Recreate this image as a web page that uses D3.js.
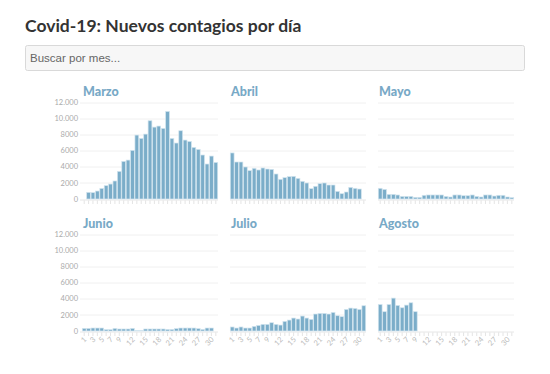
<!DOCTYPE html>
<html lang="es">
<head>
<meta charset="utf-8">
<script src="https://cdn.jsdelivr.net/npm/d3@7"></script>
<style>
  body { margin: 0; background: #fff; }
  svg { display: block; }
</style>
</head>
<body>
<script>
// Casos nuevos por día (null = sin dato)
const meses = ["Marzo", "Abril", "Mayo", "Junio", "Julio", "Agosto"]
const marzo = [null, 830, 790, 990, 1320, 1660, 1860, 2240, 3440, 4680, 4840, 6050, 7950, 7540, 8070, 9730,
  8940, 9070, 8780, 10890, 7540, 6960, 8490, 7330, 7160, 6420, 6170, 5470, 4350, 5340, 4550]
const abril = [5730, 4600, 4600, 3980, 3530, 3820, 3610, 3860, 3730, 3690, 3110, 2450, 2660, 2780, 2820,
  2570, 2200, 1990, 1290, 1580, 1910, 1990, 1740, 1740, 950, 660, 870, 1450, 1330, 1240]
const mayo = [1330, 1200, 580, 580, 500, 330, 330, 330, 210, 210, 460, 500, 500, 500, 500, 330, 250, 500,
  500, 410, 410, 500, 330, 250, 500, 500, 370, 460, 460, 250, 170]
const junio = [330, 330, 370, 370, 370, 170, 170, 330, 250, 250, 250, 330, 80, 80, 250, 250, 250, 250, 250,
  200, 200, 300, 370, 370, 370, 370, 300, 200, 370, 370]
const julio = [500, 370, 500, 370, 370, 580, 700, 830, 830, 1030, 830, 740, 1200, 1360, 1610, 1490, 1860,
  1610, 1450, 2110, 2190, 2190, 2110, 2310, 1900, 1780, 2690, 2850, 2810, 2690, 3140]
const agosto = [3300, 2400, 3300, 4090, 3180, 2890, 3220, 3510, 2400]
const series = [marzo, abril, mayo, junio, julio, agosto]

const dias = d3.range(1, 32)
const yTicks = [0, 2000, 4000, 6000, 8000, 10000, 12000]
const xLabels = [1, 3, 5, 7, 9, 12, 15, 18, 21, 24, 27, 30]

const W = 550, H = 374
const colX = [82, 230, 378]
const rowY = [102.5, 234.5]
const pw = 136, ph = 96.5
const barColor = "#7badc9"
const titleColor = "#78a9c6"

const svg = d3.select("body").append("svg")
  .attr("width", W)
  .attr("height", H)

// Título
svg.append("text")
  .attr("x", 25).attr("y", 32)
  .attr("font-family", "Lato, sans-serif")
  .attr("font-weight", "bold")
  .attr("font-size", 17.5)
  .attr("fill", "#333")
  .text("Covid-19: Nuevos contagios por día")

// Caja de búsqueda
svg.append("rect")
  .attr("x", 25.5).attr("y", 45.5)
  .attr("width", 499).attr("height", 25)
  .attr("rx", 2)
  .attr("fill", "#f7f7f7")
  .attr("stroke", "#d9d9d9")
svg.append("text")
  .attr("x", 30).attr("y", 61.5)
  .attr("font-family", "'Liberation Sans', Arial, sans-serif")
  .attr("font-size", 11.5)
  .attr("fill", "#666")
  .text("Buscar por mes...")

const x = d3.scaleBand().domain(dias).range([0, pw]).padding(0)
const y = d3.scaleLinear().domain([0, 12000]).range([ph, 0])
const fmtMiles = d3.formatLocale({decimal: ",", thousands: ".", grouping: [3], currency: ["", "€"]}).format(",")
const fmtY = d => d >= 10000 ? fmtMiles(d) : String(d)

meses.forEach((mes, i) => {
  const col = i % 3, row = Math.floor(i / 3)
  const g = svg.append("g")
    .attr("transform", `translate(${colX[col]},${rowY[row]})`)

  // rejilla
  g.selectAll("line.grid")
    .data(yTicks)
    .join("line")
    .attr("class", "grid")
    .attr("x1", col === 0 ? -2 : 0)
    .attr("x2", pw)
    .attr("y1", d => Math.round(y(d)) + 0.5)
    .attr("y2", d => Math.round(y(d)) + 0.5)
    .attr("stroke", d => d === 0 ? "#e6e6e6" : "#f0f0f0")
    .attr("stroke-width", 1)

  // etiquetas eje y en la primera columna
  if (col === 0) {
    g.selectAll("text.ylab")
      .data(yTicks)
      .join("text")
      .attr("class", "ylab")
      .attr("x", -4)
      .attr("y", d => y(d))
      .attr("dy", "0.35em")
      .attr("text-anchor", "end")
      .attr("font-family", "Lato, sans-serif")
      .attr("font-size", 7.5)
      .attr("fill", "#aaa")
      .text(fmtY)
  }

  // marcas del eje x
  g.selectAll("line.tick")
    .data(dias)
    .join("line")
    .attr("class", "tick")
    .attr("x1", d => x(d) + x.bandwidth() / 2)
    .attr("x2", d => x(d) + x.bandwidth() / 2)
    .attr("y1", ph + 1.5)
    .attr("y2", ph + 5)
    .attr("stroke", "#ddd")
    .attr("stroke-width", 0.8)

  // barras
  const datos = series[i].map((v, k) => ({dia: k + 1, v})).filter(d => d.v != null)
  g.selectAll("rect.bar")
    .data(datos)
    .join("rect")
    .attr("class", "bar")
    .attr("x", d => x(d.dia) + 0.3)
    .attr("width", x.bandwidth() - 0.6)
    .attr("y", d => y(d.v))
    .attr("height", d => ph - y(d.v))
    .attr("fill", barColor)
    .attr("stroke", "#d3e5ef")
    .attr("stroke-width", 0.7)

  // título del mes
  g.append("text")
    .attr("x", 1)
    .attr("y", -6.5)
    .attr("font-family", "Lato, sans-serif")
    .attr("font-weight", 900)
    .attr("font-size", 12.5)
    .attr("fill", titleColor)
    .text(mes)

  // etiquetas eje x en la fila inferior
  if (row === 1) {
    g.selectAll("text.xlab")
      .data(xLabels)
      .join("text")
      .attr("class", "xlab")
      .attr("transform", d => `translate(${x(d) + x.bandwidth() / 2 + 3},${ph + 9}) rotate(-45)`)
      .attr("text-anchor", "end")
      .attr("font-family", "Lato, sans-serif")
      .attr("font-size", 7.5)
      .attr("fill", "#bbb")
      .text(d => d)
  }
})
</script>
</body>
</html>
